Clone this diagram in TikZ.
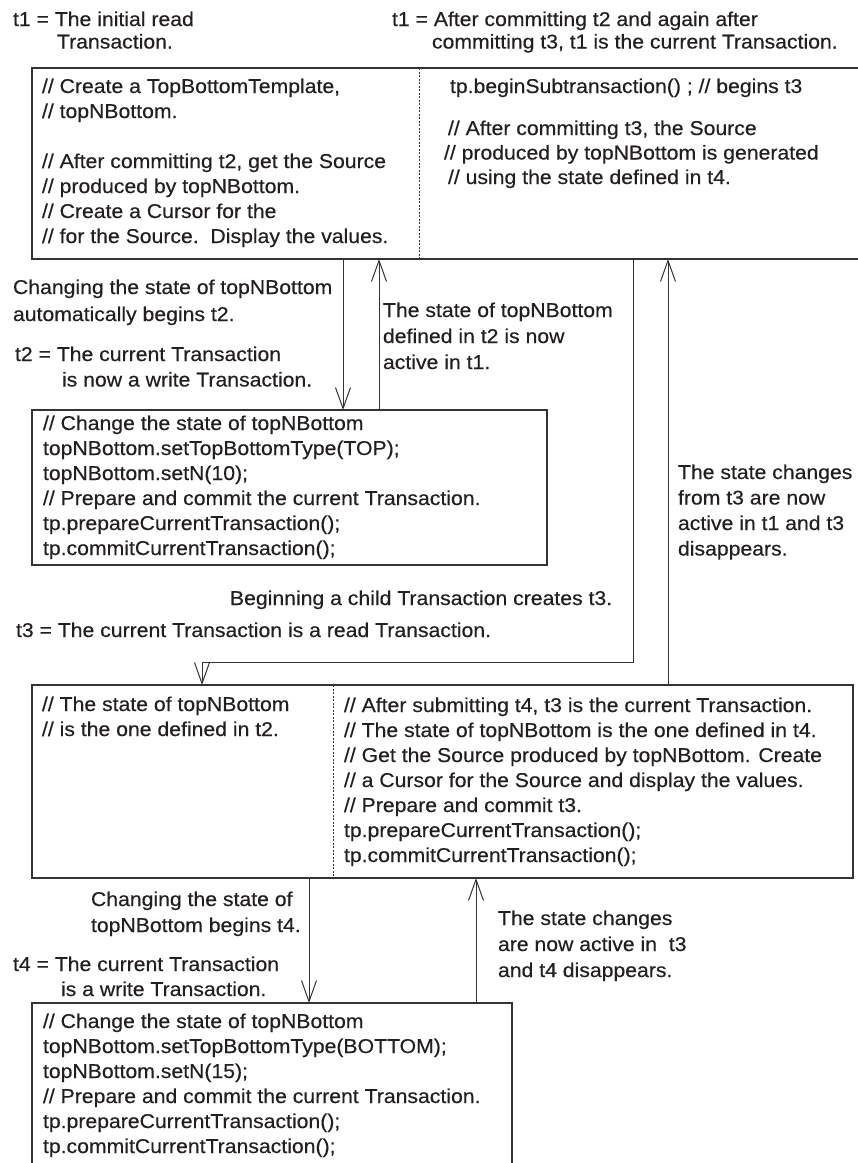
\documentclass[tikz,border=0pt]{standalone}
\usepackage{fontspec}
\setmainfont[FakeStretch=1.06,FakeBold=0.4]{Liberation Sans}
\usetikzlibrary{arrows.meta}
\definecolor{ink}{HTML}{231F20}
\definecolor{linec}{HTML}{333333}
\newcommand{\fl}{\rule{0pt}{16pt}}
\begin{document}
\begin{tikzpicture}[x=1pt,y=-1pt,
  txt/.style={anchor=north west, inner sep=0pt, outer sep=0pt, align=left, text=ink, font=\fontsize{20}{#1}\selectfont},
  txt/.default=25,
  boxst/.style={draw=linec, line width=1.2pt, rectangle, inner sep=0pt, outer sep=0pt, anchor=north west},
  dashst/.style={draw=linec, line width=0.8pt, dash pattern=on 2pt off 1.5pt},
  arr/.style={draw=linec, line width=1pt, -{Straight Barb[length=21pt,width=15pt]}}]
\useasboundingbox (0,0) rectangle (858,1163);
\clip (0,0) rectangle (858,1163);
% boxes
\node[boxst, minimum width=868pt, minimum height=191pt] (box1) at (32,68) {};
\node[boxst, minimum width=515pt, minimum height=155pt] (box2) at (32,410) {};
\node[boxst, minimum width=821pt, minimum height=193pt] (box3) at (32,685) {};
\node[boxst, minimum width=480pt, minimum height=220pt] (box4) at (32,1003) {};
% helper x positions
\coordinate (xd1) at (419,0);
\coordinate (xd3) at (333,0);
\coordinate (xa) at (343,0);
\coordinate (xb) at (379,0);
\coordinate (xc) at (633,0);
\coordinate (xe) at (668,0);
\coordinate (xf) at (309,0);
\coordinate (xg) at (476,0);
\coordinate (xh) at (202,0);
\coordinate (ye) at (0,662);
% dashed dividers
\draw[dashst] (box1.north -| xd1) -- (box1.south -| xd1);
\draw[dashst] (box3.north -| xd3) -- (box3.south -| xd3);
% connectors
\draw[arr] (box1.south -| xa) -- (box2.north -| xa);
\draw[arr] (box2.north -| xb) -- (box1.south -| xb);
\draw[arr] (box1.south -| xc) -- (xc |- ye) -- (xh |- ye) -- (box3.north -| xh);
\draw[arr] (box3.north -| xe) -- (box1.south -| xe);
\draw[arr] (box3.south -| xf) -- (box4.north -| xf);
\draw[arr] (box4.north -| xg) -- (box3.south -| xg);
% top labels
\node[txt=22.5] (t1a) at (13,10) {\fl t1 = The initial read\\\hspace*{44pt}Transaction.};
\node[txt=22.5] (t1b) at (392,10) {\fl t1 = After committing t2 and again after\\\hspace*{40pt}committing t3, t1 is the current Transaction.};
% box 1 texts
\node[txt] (b1l) at (42,77) {\fl // Create a TopBottomTemplate,\\// topNBottom.\\\mbox{}\\// After committing t2, get the Source\\// produced by topNBottom.\\// Create a Cursor for the\\// for the Source.\ \ Display the values.};
\node[txt] (b1r) at (450,77) {\fl tp.beginSubtransaction() ; // begins t3};
\node[txt=24.5] (b1s) at (448,119) {\fl // After committing t3, the Source\\\hspace*{-4pt}// produced by topNBottom is generated\\// using the state defined in t4.};
% labels between box1 and box2
\node[txt=27] (l2a) at (13,278) {\fl Changing the state of topNBottom\\automatically begins t2.};
\node[txt=25.5] (l2b) at (15,345) {\fl t2 = The current Transaction\\\hspace*{47pt}is now a write Transaction.};
\node[txt=26] (l2c) at (383,301) {\fl The state of topNBottom\\defined in t2 is now\\active in t1.};
\node[txt=25.5] (l2d) at (678,463) {\fl The state changes\\from t3 are now\\active in t1 and t3\\disappears.};
% box 2 text
\node[txt] (b2) at (43,414) {\fl // Change the state of topNBottom\\topNBottom.setTopBottomType(TOP);\\topNBottom.setN(10);\\// Prepare and commit the current Transaction.\\tp.prepareCurrentTransaction();\\tp.commitCurrentTransaction();};
% labels between box2 and box3
\node[txt] (l3a) at (230,589) {\fl Beginning a child Transaction creates t3.};
\node[txt] (l3b) at (16,621) {\fl t3 = The current Transaction is a read Transaction.};
% box 3 texts
\node[txt] (b3l) at (42,695) {\fl // The state of topNBottom\\// is the one defined in t2.};
\node[txt] (b3r) at (344,696) {\fl // After submitting t4, t3 is the current Transaction.\\// The state of topNBottom is the one defined in t4.\\// Get the Source produced by topNBottom. Create\\// a Cursor for the Source and display the values.\\// Prepare and commit t3.\\tp.prepareCurrentTransaction();\\tp.commitCurrentTransaction();};
% labels between box3 and box4
\node[txt=26] (l4a) at (91,890) {\fl Changing the state of\\topNBottom begins t4.};
\node[txt] (l4b) at (13,955) {\fl t4 = The current Transaction\\\hspace*{48pt}is a write Transaction.};
\node[txt=26] (l4c) at (498,909) {\fl The state changes\\are now active in\ \ t3\\and t4 disappears.};
% box 4 text
\node[txt] (b4) at (43,1012) {\fl // Change the state of topNBottom\\topNBottom.setTopBottomType(BOTTOM);\\topNBottom.setN(15);\\// Prepare and commit the current Transaction.\\tp.prepareCurrentTransaction();\\tp.commitCurrentTransaction();};
\end{tikzpicture}
\end{document}
